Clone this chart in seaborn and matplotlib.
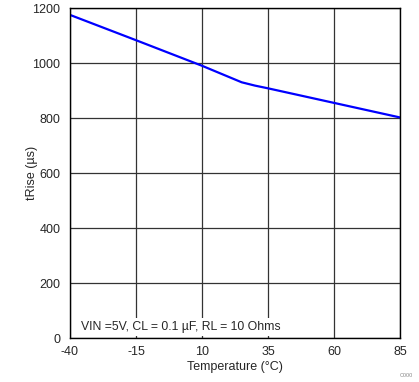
import pandas as pd
import matplotlib.pyplot as plt
import seaborn as sns

temps = [-40, -15, 10, 20, 25, 30, 35, 60, 85]
trise = [1175, 1083, 990, 950, 930, 918, 908, 855, 802]
xticks = [-40, -15, 10, 35, 60, 85]
yticks = [0, 200, 400, 600, 800, 1000, 1200]

df = pd.DataFrame({"Temperature": temps, "tRise": trise})

sns.set_style("white")
plt.rcParams['font.family'] = ['Liberation Sans', 'DejaVu Sans']
plt.rcParams['axes.unicode_minus'] = False

fig = plt.figure(figsize=(4.19, 3.82), dpi=100)
ax = fig.add_axes([0.167, 0.115, 0.788, 0.864])

sns.lineplot(data=df, x="Temperature", y="tRise", ax=ax, color="#0000ff", linewidth=1.6)

ax.set_xlim(-40, 85)
ax.set_ylim(0, 1200)
ax.set_xticks(xticks)
ax.set_yticks(yticks)
ax.grid(True, color="#333333", linewidth=0.9)
ax.tick_params(length=0, labelsize=9)
ax.tick_params(axis="x", pad=6)
ax.tick_params(axis="y", pad=7)
for s in ax.spines.values():
    s.set_color("black")
    s.set_linewidth(1)

ax.set_xlabel("Temperature (°C)", fontsize=9, labelpad=2)
ax.set_ylabel("tRise (µs)", fontsize=9)
ax.yaxis.set_label_coords(-0.097, 0.5)

ax.text(-36, 40, "VIN =5V, CL = 0.1 µF, RL = 10 Ohms", fontsize=8.8, va="center",
        bbox=dict(facecolor="white", edgecolor="none", pad=2))
fig.text(0.985, 0.01, "C000", fontsize=4, color="#888888", ha="right", va="bottom")

fig.savefig("out.png", dpi=100)
